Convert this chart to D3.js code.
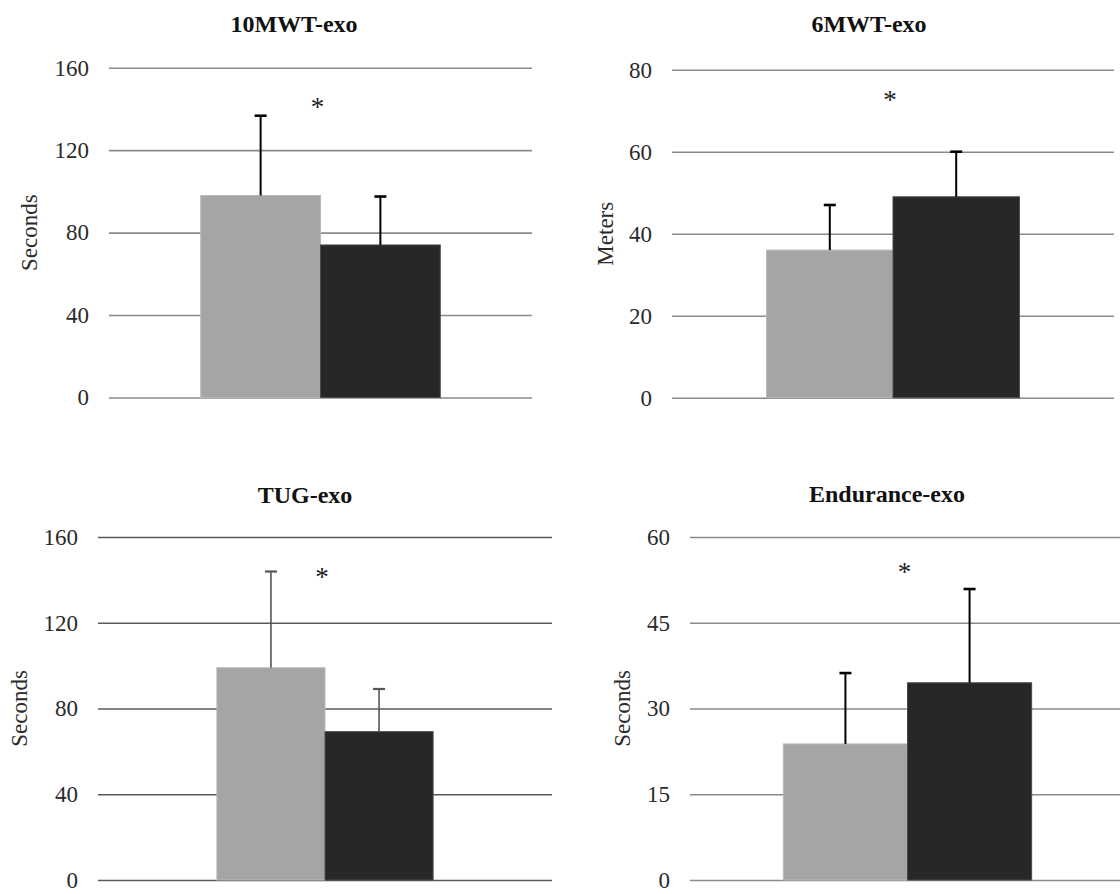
<!DOCTYPE html>
<html lang="en">
<head>
<meta charset="UTF-8">
<title>Exo outcomes</title>
<script src="https://cdn.jsdelivr.net/npm/d3@7"></script>
<style>
  body { margin: 0; background: #fff; }
  svg { display: block; }
</style>
</head>
<body>
<div id="chart"></div>
<script>
// data
var titles   = ["10MWT-exo", "6MWT-exo", "TUG-exo", "Endurance-exo"];
var yLabels  = ["Seconds", "Meters", "Seconds", "Seconds"];
var yMax     = [160, 80, 160, 60];
var yTicks   = [[0, 40, 80, 120, 160], [0, 20, 40, 60, 80], [0, 40, 80, 120, 160], [0, 15, 30, 45, 60]];
var groups   = ["pre", "post"];
var preMean  = [98, 36, 99, 23.8];
var preSD    = [38.7, 11, 44.9, 12.4];
var postMean = [74, 49, 69.2, 34.5];
var postSD   = [23.5, 11, 19.9, 16.4];
var sigY     = [143, 73.7, 143.4, 54.5];   // where the * sits

var W = 1120, H = 894;

// plot boxes and label placement for each panel
var layout = [
  { x0: 109, x1: 532,  y0: 67.7, y1: 397.5, outer: 0.383, titleX: 294, titleY: 32,  labX: 29,  grid: "#8a8a8a", err: "#000", errW: 2 },
  { x0: 672, x1: 1114, y0: 69.7, y1: 397.7, outer: 0.374, titleX: 869, titleY: 32,  labX: 605, grid: "#8a8a8a", err: "#000", errW: 2 },
  { x0: 98,  x1: 552,  y0: 537,  y1: 880,   outer: 0.55,  titleX: 305, titleY: 503, labX: 19,  grid: "#5a5a5a", err: "#555", errW: 1.6 },
  { x0: 690, x1: 1125, y0: 537,  y1: 880,   outer: 0.376, titleX: 887, titleY: 502, labX: 622, grid: "#8a8a8a", err: "#000", errW: 2 }
];

var fills   = { pre: "#a5a5a5", post: "#272727" };
var strokes = { pre: "#b8b8b8", post: "#4a4a4a" };

var svg = d3.select("#chart").append("svg")
  .attr("width", W)
  .attr("height", H);

titles.forEach(function (t, i) {
  var L = layout[i];
  var g = svg.append("g");

  var y = d3.scaleLinear().domain([0, yMax[i]]).range([L.y1, L.y0]);
  var x = d3.scaleBand().domain(["exo"]).range([L.x0, L.x1])
    .paddingInner(0).paddingOuter(L.outer);
  var xs = d3.scaleBand().domain(groups).range([0, x.bandwidth()]).padding(0);

  // gridlines + tick labels via the axis
  var axis = d3.axisLeft(y).tickValues(yTicks[i]).tickSize(-(L.x1 - L.x0)).tickPadding(20);
  var ax = g.append("g").attr("transform", "translate(" + L.x0 + ",0)").call(axis);
  ax.select(".domain").remove();
  ax.selectAll(".tick line").attr("stroke", L.grid).attr("stroke-width", 1.6);
  ax.selectAll(".tick text")
    .attr("font-family", "'Liberation Serif', 'Times New Roman', serif")
    .attr("font-size", "23px")
    .attr("fill", "#2a2a2a");

  var rows = [
    { key: "pre",  mean: preMean[i],  sd: preSD[i] },
    { key: "post", mean: postMean[i], sd: postSD[i] }
  ];

  var bx = x("exo");

  // bars
  g.selectAll("rect.bar")
    .data(rows)
    .enter()
    .append("rect")
    .attr("class", "bar")
    .attr("x", function (d) { return bx + xs(d.key); })
    .attr("y", function (d) { return y(d.mean); })
    .attr("width", xs.bandwidth())
    .attr("height", function (d) { return y(0) - y(d.mean); })
    .attr("fill", function (d) { return fills[d.key]; })
    .attr("stroke", function (d) { return strokes[d.key]; })
    .attr("stroke-width", 1);

  // upper error bars only
  var cap = 6;
  var eb = g.selectAll("g.err").data(rows).enter().append("g").attr("class", "err");
  eb.append("line")
    .attr("x1", function (d) { return bx + xs(d.key) + xs.bandwidth() / 2; })
    .attr("x2", function (d) { return bx + xs(d.key) + xs.bandwidth() / 2; })
    .attr("y1", function (d) { return y(d.mean); })
    .attr("y2", function (d) { return y(d.mean + d.sd); })
    .attr("stroke", L.err).attr("stroke-width", L.errW);
  eb.append("line")
    .attr("x1", function (d) { return bx + xs(d.key) + xs.bandwidth() / 2 - cap; })
    .attr("x2", function (d) { return bx + xs(d.key) + xs.bandwidth() / 2 + cap; })
    .attr("y1", function (d) { return y(d.mean + d.sd); })
    .attr("y2", function (d) { return y(d.mean + d.sd); })
    .attr("stroke", L.err).attr("stroke-width", L.errW + 0.6);

  // significance star
  g.append("text")
    .attr("x", bx + x.bandwidth() / 2 - 3)
    .attr("y", y(sigY[i]) + 13)
    .attr("text-anchor", "middle")
    .attr("font-family", "'Liberation Serif', 'Times New Roman', serif")
    .attr("font-size", "27px")
    .attr("fill", "#222")
    .text("*");

  // title
  g.append("text")
    .attr("x", L.titleX)
    .attr("y", L.titleY)
    .attr("text-anchor", "middle")
    .attr("font-family", "'Liberation Serif', 'Times New Roman', serif")
    .attr("font-weight", "bold")
    .attr("font-size", "24px")
    .attr("fill", "#111")
    .text(t);

  // y axis label
  var cy = (L.y0 + L.y1) / 2;
  g.append("text")
    .attr("transform", "translate(" + L.labX + "," + cy + ") rotate(-90)")
    .attr("text-anchor", "middle")
    .attr("dominant-baseline", "central")
    .attr("font-family", "'Liberation Serif', 'Times New Roman', serif")
    .attr("font-size", "23px")
    .attr("fill", "#2a2a2a")
    .text(yLabels[i]);
});
</script>
</body>
</html>
